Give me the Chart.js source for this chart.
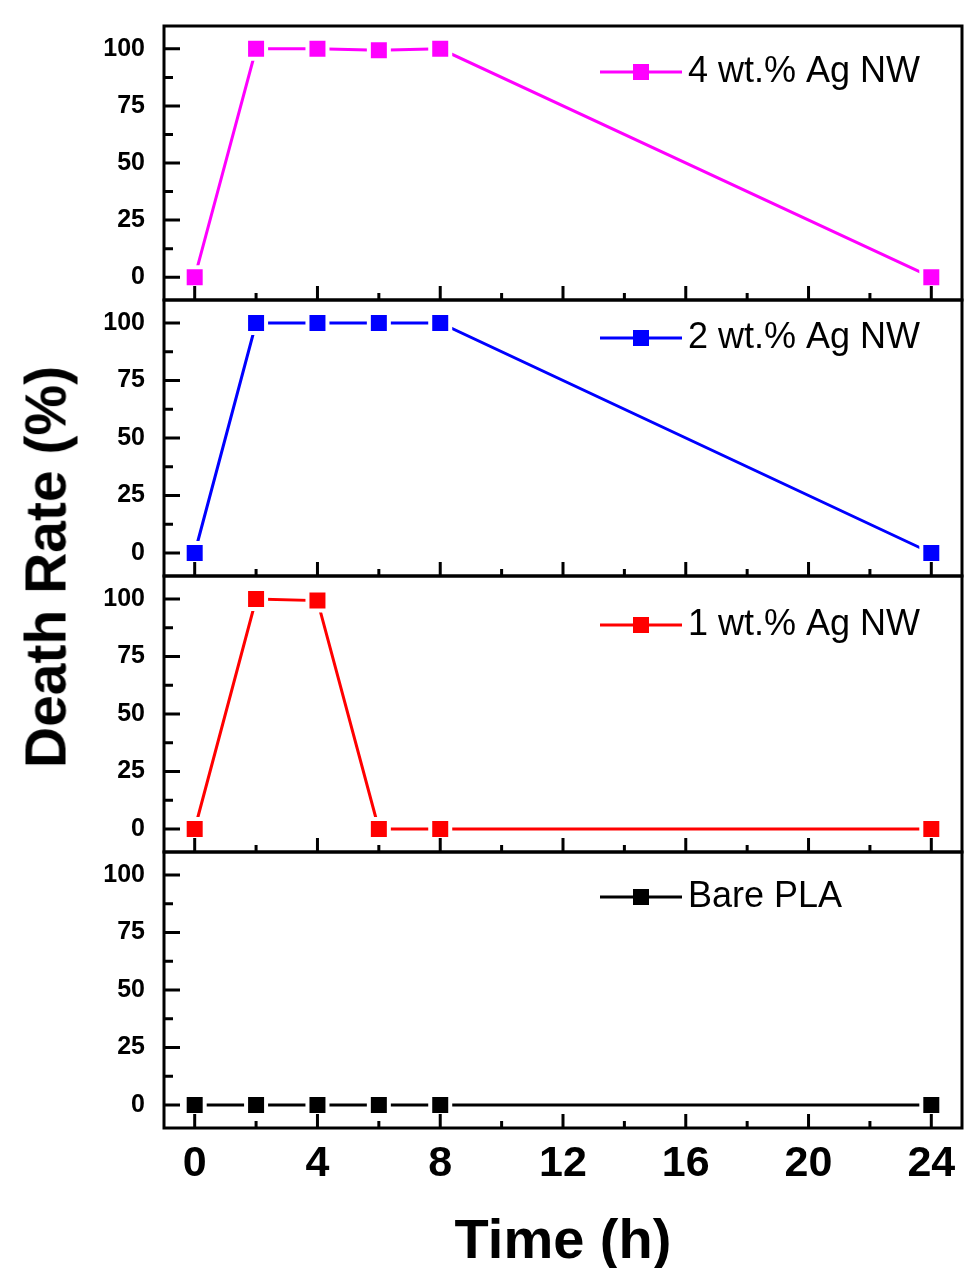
<!DOCTYPE html>
<html>
<head>
<meta charset="utf-8">
<script src="https://cdn.jsdelivr.net/npm/chart.js@4.4.1/dist/chart.umd.min.js"></script>
<style>
  html, body { margin: 0; padding: 0; background: #fff; overflow: hidden; }
  #wrap { position: relative; width: 967px; height: 1268px; }
  #wrap canvas { position: absolute; left: 0; top: 0; }
  #ytitle {
    position: absolute; left: 46px; top: 567px;
    transform: translate(-50%, -50%) rotate(-90deg);
    font: bold 57px "Liberation Sans", Arial, sans-serif;
    color: #000; white-space: nowrap; line-height: 1;
  }
</style>
</head>
<body>
<div id="wrap">
  <canvas id="panel0" width="967" height="1268"></canvas>
  <canvas id="panel1" width="967" height="1268"></canvas>
  <canvas id="panel2" width="967" height="1268"></canvas>
  <canvas id="panel3" width="967" height="1268"></canvas>
  <div id="ytitle">Death Rate (%)</div>
</div>
<script>
const timeHours = [0, 2, 4, 6, 8, 24];
const ag4Rate = [0, 100, 100, 99.4, 100, 0];
const ag2Rate = [0, 100, 100, 100, 100, 0];
const ag1Rate = [0, 100, 99.3, 0, 0, 0];
const bareRate = [0, 0, 0, 0, 0, 0];

const xTicks = [0, 4, 8, 12, 16, 20, 24];
const yTicks = [0, 25, 50, 75, 100];

const seriesNames = ["4 wt.% Ag NW", "2 wt.% Ag NW", "1 wt.% Ag NW", "Bare PLA"];
const seriesColors = ["#ff00ff", "#0000ff", "#ff0000", "#000000"];
const seriesValues = [ag4Rate, ag2Rate, ag1Rate, bareRate];

// panel frames (top / bottom of each plot box) and key row centre
const PAGE_H = 1268;
const panelTops = [26, 300, 576, 852];
const panelBottoms = [300, 576, 852, 1128];
const keyRows = [72, 338, 625, 897];

const FONT = '"Liberation Sans", Arial, sans-serif';

// keep the plot box exactly where the layout padding puts it
function noEdgePadding(s) {
  s.paddingTop = 0;
  s.paddingBottom = 0;
  s.paddingLeft = 0;
  s.paddingRight = 0;
}

// closed box + inward ticks, like the Origin plot frames
const framePlugin = {
  id: "frame",
  afterDatasetsDraw(chart) {
    const { ctx, chartArea: a, scales: { x, y } } = chart;
    ctx.save();
    ctx.strokeStyle = "#000";
    ctx.lineWidth = 3;
    ctx.lineCap = "butt";
    ctx.beginPath();
    const xs = x.ticks.map((t) => t.value);
    xs.forEach((v, i) => {
      const px = x.getPixelForValue(v);
      ctx.moveTo(px, a.bottom);
      ctx.lineTo(px, a.bottom - 14);
      if (i < xs.length - 1) {
        const mx = x.getPixelForValue((v + xs[i + 1]) / 2);
        ctx.moveTo(mx, a.bottom);
        ctx.lineTo(mx, a.bottom - 7);
      }
    });
    const ys = y.ticks.map((t) => t.value);
    ys.forEach((v, i) => {
      const py = y.getPixelForValue(v);
      ctx.moveTo(a.left, py);
      ctx.lineTo(a.left + 16, py);
      if (i < ys.length - 1) {
        const my = y.getPixelForValue((v + ys[i + 1]) / 2);
        ctx.moveTo(a.left, my);
        ctx.lineTo(a.left + 9, my);
      }
    });
    ctx.stroke();
    ctx.strokeRect(a.left, a.top, a.right - a.left, a.bottom - a.top);
    ctx.restore();
  }
};

// line-and-square key drawn in the upper right of each panel
const keyPlugin = {
  id: "seriesKey",
  afterDatasetsDraw(chart, args, opts) {
    const ds = chart.data.datasets[0];
    const ctx = chart.ctx;
    const y = opts.y;
    ctx.save();
    ctx.strokeStyle = ds.borderColor;
    ctx.lineWidth = 3;
    ctx.beginPath();
    ctx.moveTo(600, y);
    ctx.lineTo(682, y);
    ctx.stroke();
    ctx.fillStyle = ds.borderColor;
    ctx.fillRect(633, y - 8, 16, 16);
    ctx.fillStyle = "#000";
    ctx.font = "36px " + FONT;
    ctx.textBaseline = "middle";
    ctx.textAlign = "left";
    ctx.fillText(ds.label, 688, y);
    ctx.restore();
  }
};

function buildPanel(idx) {
  const color = seriesColors[idx];
  const values = seriesValues[idx];
  const isBottom = idx === 3;

  new Chart(document.getElementById("panel" + idx), {
    type: "line",
    data: {
      datasets: [{
        label: seriesNames[idx],
        data: timeHours.map((t, i) => ({ x: t, y: values[i] })),
        borderColor: color,
        backgroundColor: color,
        borderWidth: 3,
        tension: 0,
        pointStyle: "rect",
        pointRadius: 14.14,
        pointBackgroundColor: color,
        pointBorderColor: "#ffffff",
        pointBorderWidth: 4,
        clip: false
      }]
    },
    options: {
      responsive: false,
      animation: false,
      events: [],
      layout: {
        autoPadding: false,
        padding: { top: panelTops[idx], right: 5, left: 0, bottom: 0 }
      },
      plugins: {
        legend: { display: false },
        tooltip: { enabled: false },
        seriesKey: { y: keyRows[idx] }
      },
      scales: {
        x: {
          type: "linear",
          min: -1,
          max: 25,
          afterBuildTicks: (s) => { s.ticks = xTicks.map((v) => ({ value: v })); },
          afterFit: (s) => {
            s.height = PAGE_H - panelBottoms[idx];
            noEdgePadding(s);
          },
          grid: { display: false, drawTicks: false },
          border: { display: false },
          ticks: {
            display: isBottom,
            padding: 10,
            color: "#000",
            font: { family: FONT, size: 43, weight: "bold" }
          },
          title: {
            display: isBottom,
            text: "Time (h)",
            color: "#000",
            padding: { top: 0, bottom: 0 },
            font: { family: FONT, size: 56, weight: "bold", lineHeight: 0.92 }
          }
        },
        y: {
          min: -10,
          max: 110,
          afterBuildTicks: (s) => { s.ticks = yTicks.map((v) => ({ value: v })); },
          afterFit: (s) => {
            s.width = 164;
            noEdgePadding(s);
          },
          grid: { display: false, drawTicks: false },
          border: { display: false },
          ticks: {
            padding: 19,
            color: "#000",
            font: { family: FONT, size: 25, weight: "bold" }
          }
        }
      }
    },
    plugins: [framePlugin, keyPlugin]
  });
}

document.addEventListener("DOMContentLoaded", () => {
  [0, 1, 2, 3].forEach(buildPanel);
});
</script>
</body>
</html>
